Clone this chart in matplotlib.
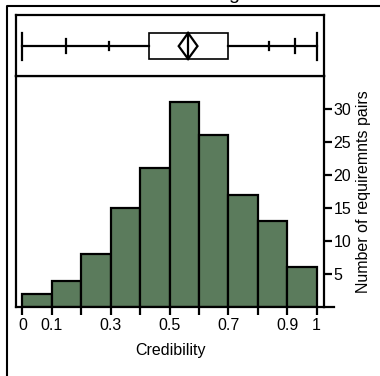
import matplotlib.pyplot as plt
from matplotlib.patches import Rectangle, Polygon
from matplotlib.lines import Line2D

plt.rcParams['font.family'] = ['Liberation Sans', 'DejaVu Sans']

# histogram bins and counts
bin_edges = [0.0, 0.1, 0.2, 0.3, 0.4, 0.5, 0.6, 0.7, 0.8, 0.9, 1.0]
counts = [2, 4, 8, 15, 21, 31, 26, 17, 13, 6]

# quantile box plot summary
q_min, q_max = 0.0, 1.0
q_025, q_975 = 0.147, 0.925
q_10, q_90 = 0.293, 0.839
q1, median, q3 = 0.43, 0.563, 0.70
mean, mean_ci = 0.563, 0.032

xtick_vals = [0, 0.1, 0.2, 0.3, 0.4, 0.5, 0.6, 0.7, 0.8, 0.9, 1.0]
xtick_labels = ['0', '0.1', '', '0.3', '', '0.5', '', '0.7', '', '0.9', '1']
ytick_vals = [5, 10, 15, 20, 25, 30]

bar_color = '#5b7b5c'
lw = 1.6
fs = 11.5
xlim = (-0.022, 1.025)

W, H = 380, 376
fig = plt.figure(figsize=(W / 100, H / 100), dpi=100)

def fig_rect(left, top, right, bottom):
    return [left / W, 1 - bottom / H, (right - left) / W, (bottom - top) / H]

# outer frame running off the page (left and top edges only)
fig.add_artist(Line2D([7 / W, 7 / W, 1.1], [-0.1, 1 - 6 / H, 1 - 6 / H],
                      transform=fig.transFigure, color='black', linewidth=1.5))
fig.text(234 / W, 1 + 1 / H, 'g', ha='center', va='baseline', fontsize=14)

# histogram
ax = fig.add_axes(fig_rect(16, 76, 324, 307))
ax.bar(bin_edges[:-1], counts, width=0.1, align='edge', color=bar_color,
       edgecolor='black', linewidth=lw, zorder=2)
ax.set_xlim(*xlim)
ax.set_ylim(0, 35)
ax.set_xticks(xtick_vals)
ax.set_xticklabels(xtick_labels)
ax.set_yticks(ytick_vals)
ax.yaxis.tick_right()
ax.yaxis.set_label_position('right')
ax.tick_params(axis='both', direction='out', length=6, width=lw,
               labelsize=fs)
ax.tick_params(axis='x', pad=2)
ax.tick_params(axis='y', pad=1)
for s in ax.spines.values():
    s.set_linewidth(lw)
ax.add_line(Line2D([1, 1 + 10 / 308], [0, 0], transform=ax.transAxes,
                   color='black', linewidth=lw, clip_on=False))
ax.set_xlabel('Credibility', fontsize=fs, labelpad=7)
ax.set_ylabel('Number of requiremnts pairs', fontsize=fs, labelpad=3,
              rotation=90)

# quantile box plot above
bx = fig.add_axes(fig_rect(16, 15, 324, 76))
bx.set_xlim(*xlim)
bx.set_ylim(0, 1)
bx.set_xticks([])
bx.set_yticks([])
for s in bx.spines.values():
    s.set_linewidth(lw)
yc = 0.49
bx.plot([q_min, q1], [yc, yc], color='black', lw=lw)
bx.plot([q3, q_max], [yc, yc], color='black', lw=lw)
for x, half in [(q_min, 0.22), (q_max, 0.22), (q_025, 0.12), (q_975, 0.12),
                (q_10, 0.065), (q_90, 0.065)]:
    bx.plot([x, x], [yc - half, yc + half], color='black', lw=lw)
bx.add_patch(Rectangle((q1, 0.28), q3 - q1, 0.425, fill=False,
                       edgecolor='black', linewidth=1.2))
bx.plot([median, median], [0.28, 0.705], color='black', lw=1.2)
bx.add_patch(Polygon([(mean - mean_ci, yc), (mean, 0.705),
                      (mean + mean_ci, yc), (mean, 0.28)], closed=True,
                     fill=False, edgecolor='black', linewidth=lw))
bx.plot([mean, mean], [0.28, 0.705], color='black', lw=lw)

fig.savefig('out.png', dpi=100)
